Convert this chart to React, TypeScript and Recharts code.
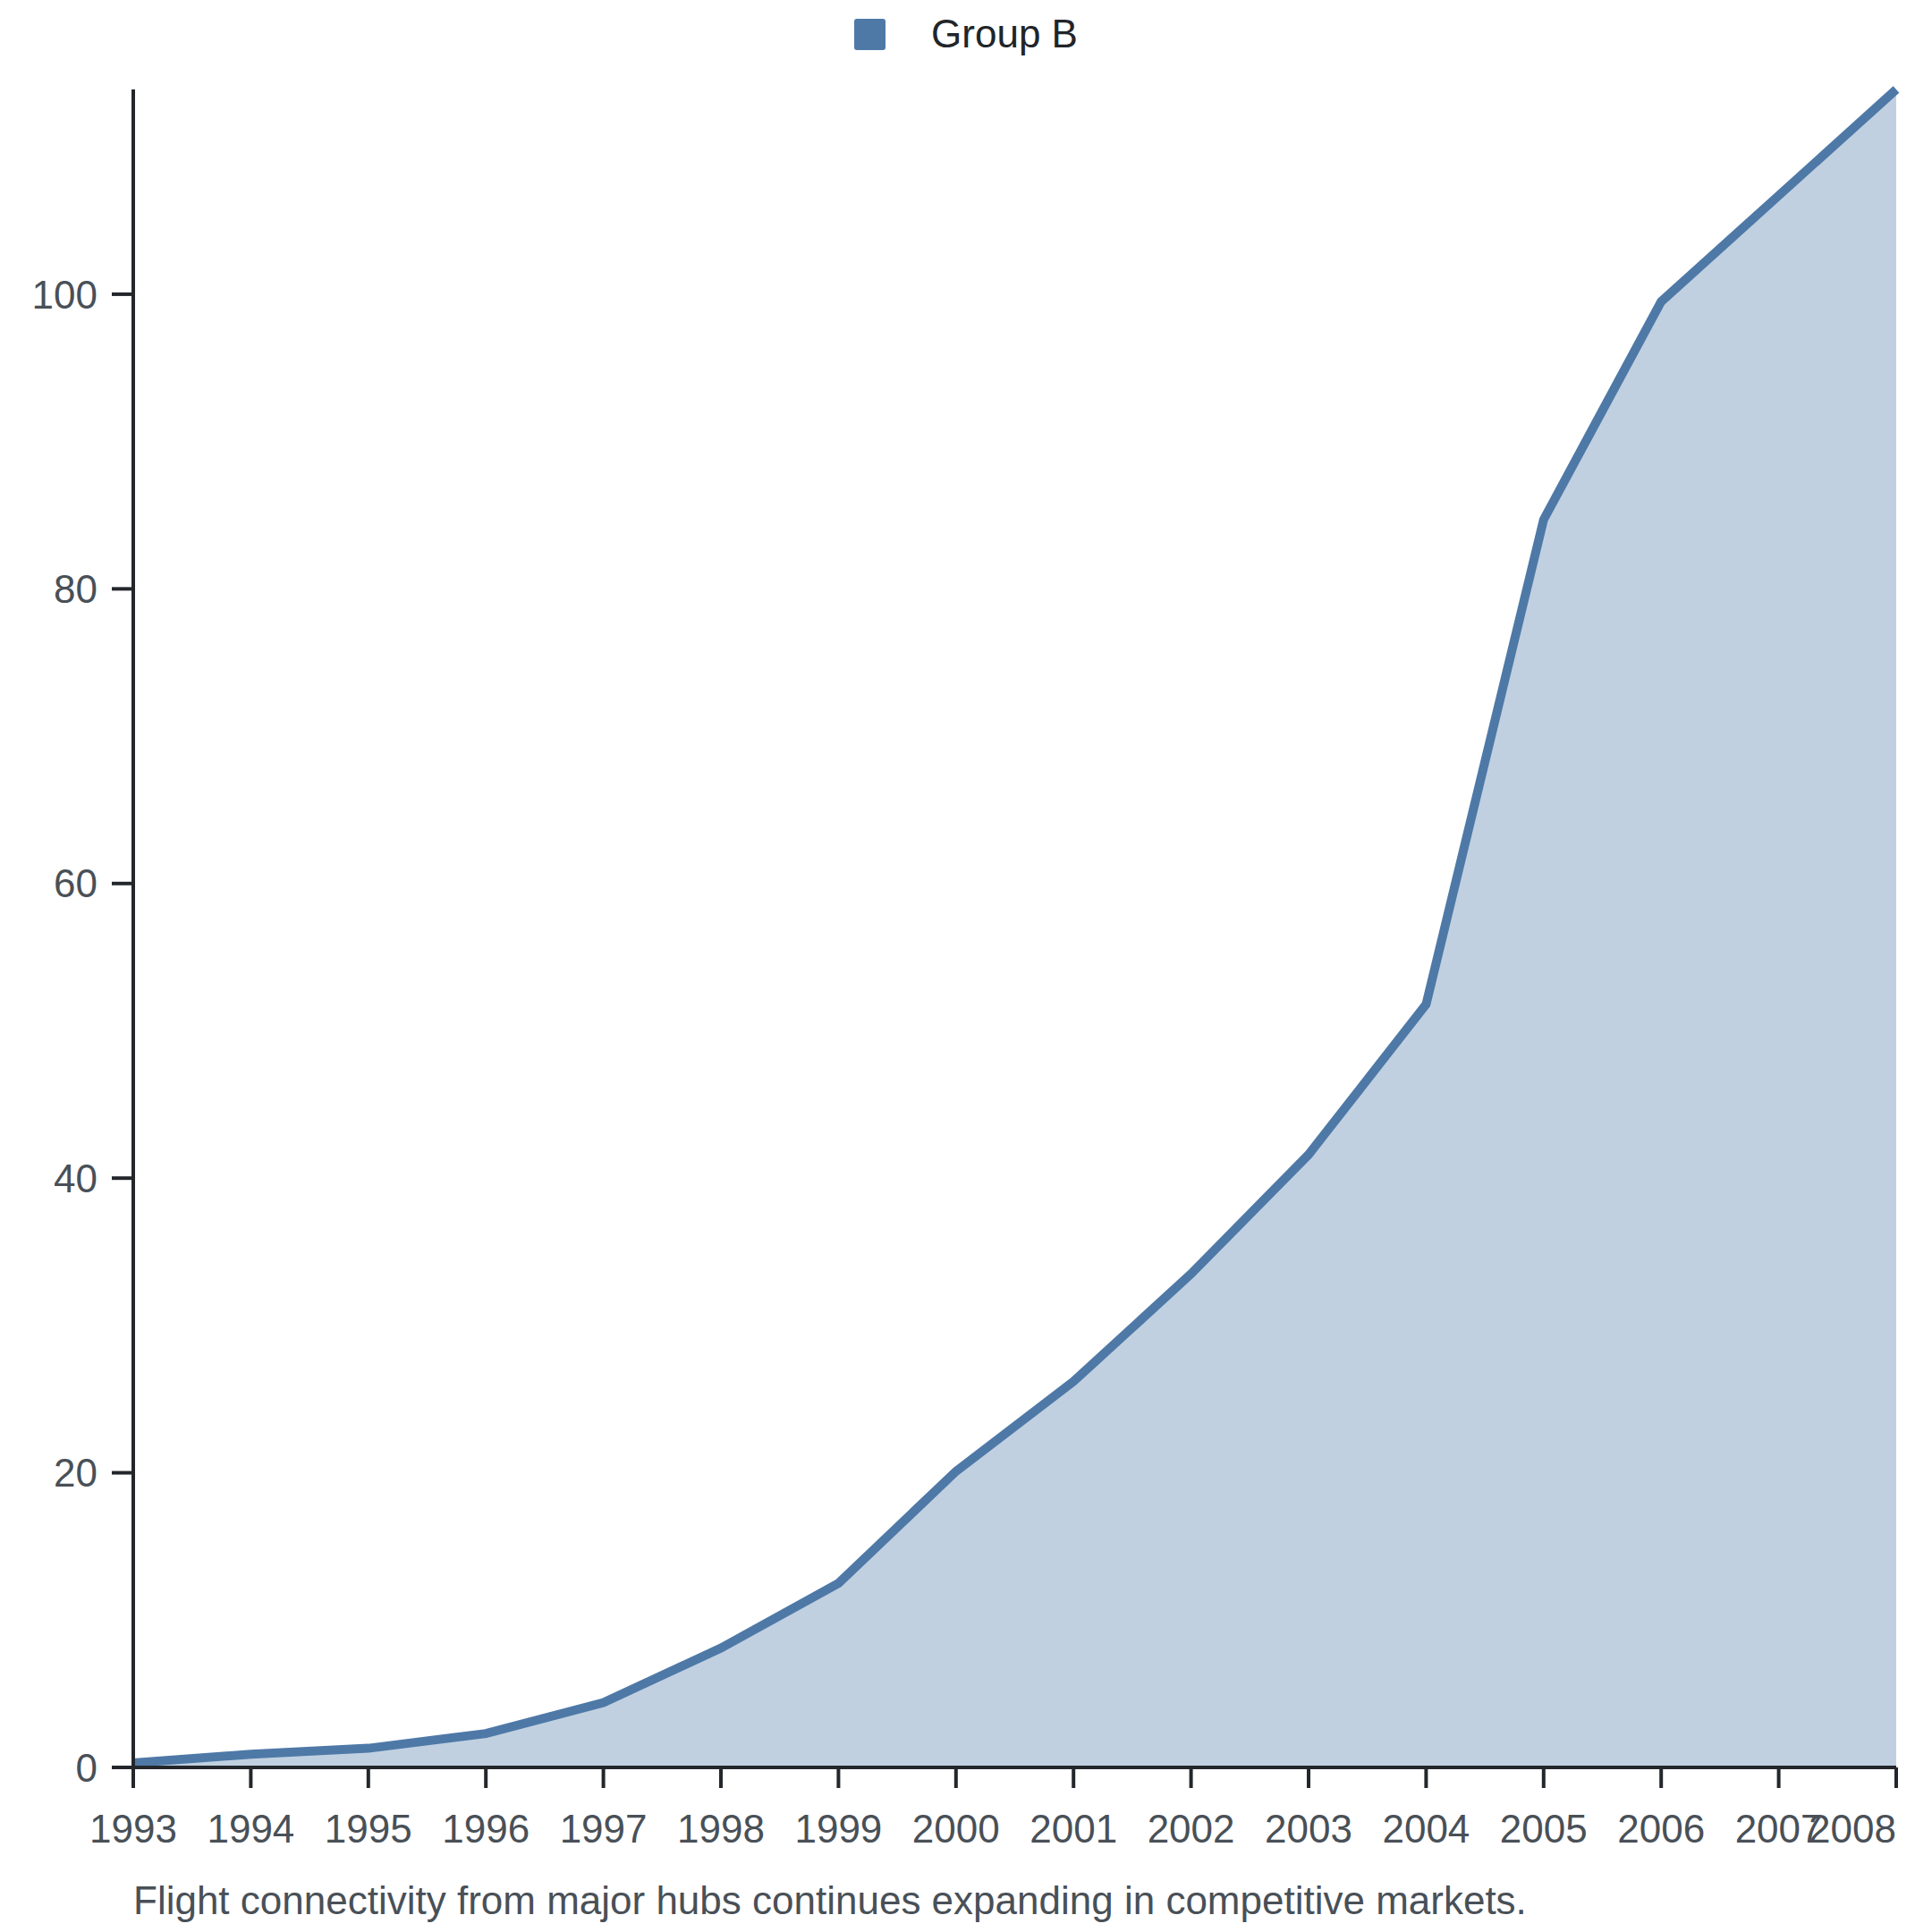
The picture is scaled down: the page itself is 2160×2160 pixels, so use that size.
import React from 'react';
import { AreaChart, Area, XAxis, YAxis, Legend } from 'recharts';

const years = ['1993', '1994', '1995', '1996', '1997', '1998', '1999', '2000', '2001', '2002', '2003', '2004', '2005', '2006', '2007', '2008'];
const groupB = [0.3, 0.9, 1.3, 2.3, 4.4, 8.1, 12.5, 20.1, 26.2, 33.5, 41.6, 51.8, 84.7, 99.5, 106.7, 113.9];
const yTicks = [0, 20, 40, 60, 80, 100];
const seriesName = 'Group B';
const caption = 'Flight connectivity from major hubs continues expanding in competitive markets.';

const data = years.map((year, i) => ({ year, value: groupB[i] }));

const FONT = '"Liberation Sans", Arial, Helvetica, sans-serif';
const LINE = '#4e79a7';
const AXIS = '#23272b';
const TICK_TEXT = '#495057';

const XTick = (props: any) => {
  const { x, y, payload, index } = props;
  const isLast = index === years.length - 1;
  return (
    <text
      x={x}
      y={y}
      dy="0.71em"
      textAnchor={isLast ? 'end' : 'middle'}
      fill={TICK_TEXT}
      fontSize={44}
      fontFamily={FONT}
    >
      {payload.value}
    </text>
  );
};

const LegendContent = () => (
  <div style={{ width: 2160, height: 90, display: 'flex', justifyContent: 'center' }}>
    <div style={{ height: 56, display: 'flex', alignItems: 'center' }}>
      <div style={{ width: 35, height: 35, background: LINE, borderRadius: 3, marginRight: 51 }} />
      <span style={{ fontSize: 44, lineHeight: '44px', color: '#212529', fontFamily: FONT }}>{seriesName}</span>
    </div>
  </div>
);

export default function App() {
  return (
    <div style={{ position: 'absolute', left: 0, top: 0, width: 2160, height: 2160, background: '#ffffff', fontFamily: FONT }}>
      <AreaChart
        width={2160}
        height={2160}
        data={data}
        margin={{ top: 10, right: 40, left: 0, bottom: 114 }}
      >
        <Legend
          verticalAlign="top"
          align="center"
          content={<LegendContent />}
          wrapperStyle={{ left: 0, top: 10, width: 2160, height: 90 }}
        />
        <XAxis
          dataKey="year"
          height={70}
          interval={0}
          tickSize={23}
          tickMargin={30}
          axisLine={{ stroke: AXIS, strokeWidth: 4 }}
          tickLine={{ stroke: AXIS, strokeWidth: 4 }}
          tick={<XTick />}
        />
        <YAxis
          width={149}
          domain={[0, 'dataMax']}
          ticks={yTicks}
          interval={0}
          tickSize={24}
          tickMargin={16}
          axisLine={{ stroke: AXIS, strokeWidth: 4 }}
          tickLine={{ stroke: AXIS, strokeWidth: 4 }}
          tick={{ fill: TICK_TEXT, fontSize: 44, fontFamily: FONT }}
        />
        <Area
          type="linear"
          dataKey="value"
          name={seriesName}
          stroke={LINE}
          strokeWidth={10}
          fill={LINE}
          fillOpacity={0.35}
          dot={false}
          activeDot={false}
          isAnimationActive={false}
        />
      </AreaChart>
      <div
        style={{
          position: 'absolute',
          left: 149,
          top: 2103,
          fontSize: 44,
          lineHeight: '44px',
          color: TICK_TEXT,
          fontFamily: FONT,
          whiteSpace: 'nowrap',
        }}
      >
        {caption}
      </div>
    </div>
  );
}
